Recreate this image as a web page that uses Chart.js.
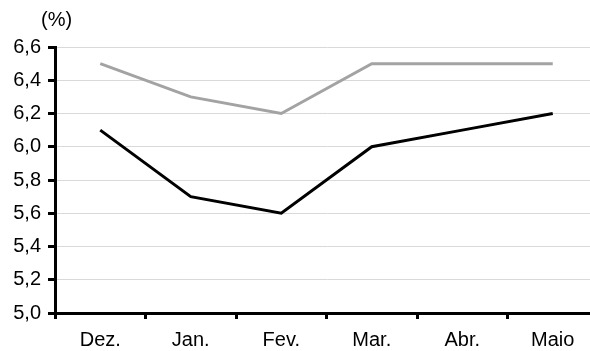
<!DOCTYPE html>
<html>
<head>
<meta charset="utf-8">
<script src="https://cdn.jsdelivr.net/npm/chart.js@4/dist/chart.umd.min.js"></script>
<style>
  html, body { margin: 0; padding: 0; background: #fff; overflow: hidden; }
  #wrap { width: 590px; height: 351px; overflow: hidden; }
  #box { width: 600px; height: 351px; }
</style>
</head>
<body>
<div id="wrap"><div id="box"><canvas id="lineChart"></canvas></div></div>
<script>
/* data */
const months = ['Dez.', 'Jan.', 'Fev.', 'Mar.', 'Abr.', 'Maio'];
const greySeries = [6.5, 6.3, 6.2, 6.5, 6.5, 6.5];
const blackSeries = [6.1, 5.7, 5.6, 6.0, 6.1, 6.2];
const yTicks = [5.0, 5.2, 5.4, 5.6, 5.8, 6.0, 6.2, 6.4, 6.6];
const unitLabel = '(%)';

Chart.defaults.font.family = "'Liberation Sans', Arial, sans-serif";
Chart.defaults.font.size = 20;
Chart.defaults.color = '#000';

const unitPlugin = {
    id: 'unitLabel',
    afterDraw(chart) {
        const c = chart.ctx;
        c.save();
        c.font = "20px 'Liberation Sans', Arial, sans-serif";
        c.fillStyle = '#000';
        c.textAlign = 'left';
        c.textBaseline = 'middle';
        c.fillText(unitLabel, 41, 20);
        c.restore();
    }
};

const ctx = document.getElementById('lineChart').getContext('2d');
new Chart(ctx, {
    type: 'line',
    data: {
        labels: months,
        datasets: [
            {
                data: greySeries,
                borderColor: '#a3a3a3',
                borderWidth: 3,
                pointRadius: 0,
                tension: 0,
            },
            {
                data: blackSeries,
                borderColor: '#000',
                borderWidth: 3,
                pointRadius: 0,
                tension: 0,
            }
        ]
    },
    options: {
        responsive: true,
        maintainAspectRatio: false,
        animation: false,
        layout: { padding: { top: 47, right: 2, left: 0, bottom: 0 } },
        plugins: {
            legend: { display: false },
            tooltip: { enabled: false }
        },
        scales: {
            x: {
                type: 'category',
                offset: true,
                grid: {
                    offset: true,
                    drawOnChartArea: false,
                    drawTicks: true,
                    tickLength: 6,
                    tickWidth: 3,
                    tickColor: '#000'
                },
                border: { color: '#000', width: 3 },
                ticks: { padding: 9, font: { size: 20 } },
                afterFit(scale) { scale.height = 38; }
            },
            y: {
                min: 5.0,
                max: 6.6,
                afterBuildTicks(scale) {
                    scale.ticks = yTicks.map(v => ({ value: v }));
                },
                grid: {
                    color: '#d9d9d9',
                    lineWidth: 1,
                    drawTicks: true,
                    tickLength: 7,
                    tickWidth: 3,
                    tickColor: '#000'
                },
                border: { color: '#000', width: 3 },
                ticks: {
                    padding: 7,
                    font: { size: 20 },
                    callback: v => v.toFixed(1).replace('.', ',')
                },
                afterFit(scale) { scale.width = 55; }
            }
        }
    },
    plugins: [unitPlugin]
});
</script>
</body>
</html>
